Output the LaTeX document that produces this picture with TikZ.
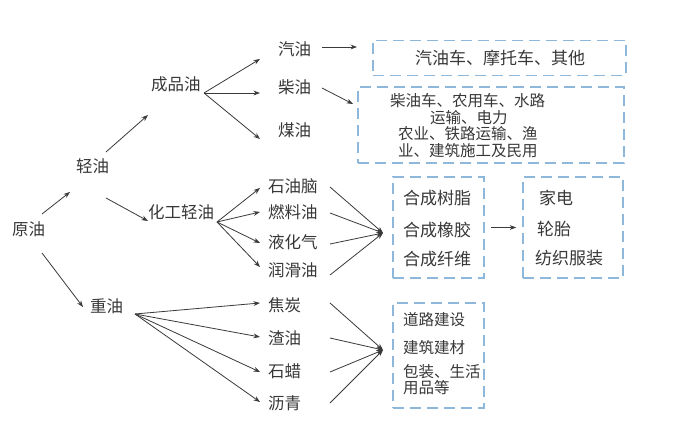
\documentclass[tikz,border=0pt]{standalone}
\usepackage{fontspec}
\setmainfont{Noto Sans CJK SC}
\usetikzlibrary{arrows.meta}
\definecolor{txt}{HTML}{383838}
\definecolor{ln}{HTML}{3A3A3A}
\definecolor{bx}{HTML}{8DB8DC}
\tikzset{
  lab/.style={inner sep=0pt, anchor=west, text=txt, font=\fontsize{16.5}{18}\selectfont},
  big/.style={inner sep=0pt, anchor=west, text=txt, font=\fontsize{17}{19}\selectfont},
  small/.style={inner sep=0pt, anchor=west, text=txt, font=\fontsize{15.5}{17}\selectfont},
  arr/.style={draw=ln, line width=0.8pt, -{Stealth[length=6.5pt,width=4.8pt]}},
  ln0/.style={draw=ln, line width=0.8pt},
  dbox/.style={draw=bx, line width=1.6pt, dash pattern=on 11pt off 6pt, inner sep=0pt}
}
\begin{document}
\begin{tikzpicture}[x=1pt,y=-1pt]
\useasboundingbox[fill=white] (0,0) rectangle (683,425);

% boxes
\node[dbox, minimum width=253pt, minimum height=35pt] (box1) at (499.5,58) {};
\node[dbox, minimum width=266pt, minimum height=76pt] (box2) at (491,125) {};
\node[dbox, minimum width=91pt, minimum height=101pt] (box3) at (438.5,227.5) {};
\node[dbox, minimum width=100pt, minimum height=101pt] (box4) at (573,227.5) {};
\node[dbox, minimum width=91pt, minimum height=105pt] (box5) at (438.5,355.5) {};

% main labels
\node[lab] (yuan) at (12,229) {原油};
\node[lab] (qing) at (76,166) {轻油};
\node[lab] (cpy) at (151,84) {成品油};
\node[lab] (hgqy) at (148,212) {化工轻油};
\node[lab] (zhong) at (90,306) {重油};
\node[lab] (qiyou) at (278,49) {汽油};
\node[lab] (chaiyou) at (278,87) {柴油};
\node[lab] (meiyou) at (278,130) {煤油};
\node[lab] (syn) at (268,186) {石油脑};
\node[lab] (rly) at (268,212) {燃料油};
\node[lab] (yhq) at (268,242) {液化气};
\node[lab] (rhy) at (268,270) {润滑油};
\node[lab] (jt) at (268,305) {焦炭};
\node[lab] (zy) at (268,338) {渣油};
\node[lab] (sl) at (268,371) {石蜡};
\node[lab] (lq) at (268,403) {沥青};

% box texts
\node[big, anchor=center] (t1) at (500,58) {汽油车、摩托车、其他};
\node[small] (t2a) at (390,101) {柴油车、农用车、水路};
\node[small] (t2b) at (430,118) {运输、电力};
\node[small] (t2c) at (398,134) {农业、铁路运输、渔};
\node[small] (t2d) at (398,151) {业、建筑施工及民用};
\node[big] (t3a) at (403,198) {合成树脂};
\node[big] (t3b) at (403,230) {合成橡胶};
\node[big] (t3c) at (403,259) {合成纤维};
\node[big] (t4a) at (539,198) {家电};
\node[big] (t4b) at (537,229) {轮胎};
\node[big] (t4c) at (535,258) {纺织服装};
\node[small] (t5a) at (403,320) {道路建设};
\node[small] (t5b) at (403,348) {建筑建材};
\node[small] (t5c) at (403,372) {包装、生活};
\node[small] (t5d) at (403,388) {用品等};

% connector points
\coordinate (y1) at (42,214);  \coordinate (q1) at (70,192);
\coordinate (q2) at (106,152); \coordinate (c1) at (148,115);
\coordinate (q3) at (106,198); \coordinate (h1) at (148,221);
\coordinate (y2) at (42,253);  \coordinate (z1) at (83,307);
\coordinate (cfan) at (204,93);
\coordinate (qiT) at (260,59); \coordinate (chT) at (260,93); \coordinate (meT) at (260,139);
\coordinate (qiS) at (322,47); \coordinate (b1T) at (357,47);
\coordinate (chS) at (322,88); \coordinate (b2T) at (353,104);
\coordinate (hfan) at (217,222);
\coordinate (synT) at (260,188); \coordinate (rlyT) at (260,212);
\coordinate (yhqT) at (260,243); \coordinate (rhyT) at (260,267);
\coordinate (zfan) at (135,314);
\coordinate (jtT) at (260,303); \coordinate (zyT) at (260,337);
\coordinate (slT) at (260,372); \coordinate (lqT) at (260,402);
\coordinate (conv1) at (383,233);
\coordinate (synS) at (330,187); \coordinate (rlyS) at (330,213);
\coordinate (yhqS) at (330,244); \coordinate (rhyS) at (330,275);
\coordinate (conv2) at (383,350);
\coordinate (jtS) at (330,303); \coordinate (zyS) at (330,338);
\coordinate (slS) at (330,372); \coordinate (lqS) at (330,403);

% arrows
\draw[arr] (y1) -- (q1);
\draw[arr] (q2) -- (c1);
\draw[arr] (q3) -- (h1);
\draw[arr] (y2) -- (z1);
\draw[arr] (cfan) -- (qiT);
\draw[arr] (cfan) -- (chT);
\draw[arr] (cfan) -- (meT);
\draw[arr] (qiS) -- (b1T);
\draw[arr] (chS) -- (b2T);
\draw[arr] (hfan) -- (synT);
\draw[arr] (hfan) -- (rlyT);
\draw[arr] (hfan) -- (yhqT);
\draw[arr] (hfan) -- (rhyT);
\draw[arr] (zfan) -- (jtT);
\draw[arr] (zfan) -- (zyT);
\draw[arr] (zfan) -- (slT);
\draw[arr] (zfan) -- (lqT);
\draw[arr] (synS) -- (conv1);
\draw[arr] (rlyS) -- (conv1);
\draw[arr] (yhqS) -- (conv1);
\draw[arr] (rhyS) -- (conv1);
\draw[arr] (jtS) -- (conv2);
\draw[arr] (zyS) -- (conv2);
\draw[arr] (slS) -- (conv2);
\draw[arr] (lqS) -- (conv2);
\draw[arr, shorten <=6pt, shorten >=6pt] (box3.east) -- (box4.west);
\end{tikzpicture}
\end{document}
